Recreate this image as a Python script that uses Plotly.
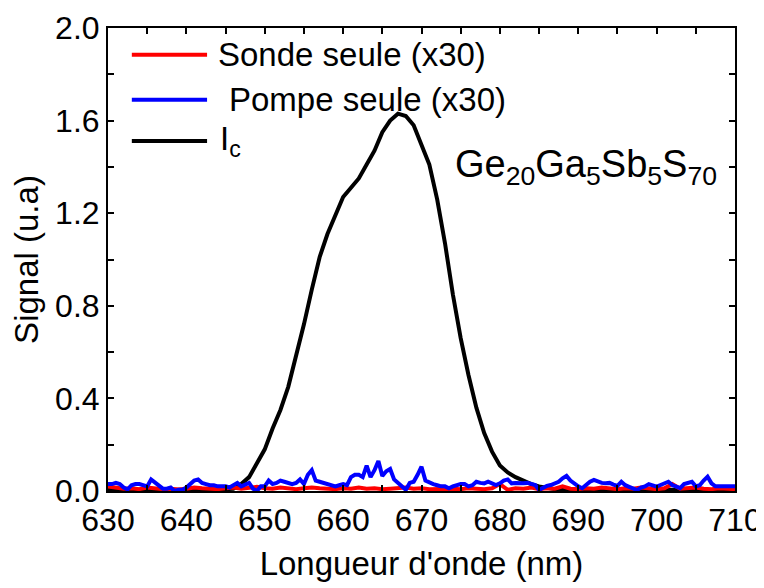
import plotly.graph_objects as go

# wavelengths (nm)
wl_1nm = list(range(630, 711))
wl_blue = [630 + 0.5 * i for i in range(161)]

ic_values = [
    0.004, 0.005, 0.003, 0.006, 0.004, 0.005, 0.003, 0.004, 0.006, 0.004,  # 630-639
    0.005, 0.004, 0.006, 0.004, 0.005, 0.006, 0.01, 0.03, 0.06, 0.12,      # 640-649
    0.18, 0.27, 0.35, 0.45, 0.58, 0.72, 0.87, 1.01, 1.11, 1.19,            # 650-659
    1.27, 1.31, 1.35, 1.41, 1.47, 1.55, 1.60, 1.63, 1.62, 1.58,            # 660-669
    1.50, 1.41, 1.26, 1.07, 0.85, 0.66, 0.50, 0.36, 0.25, 0.17,            # 670-679
    0.11, 0.08, 0.06, 0.045, 0.03, 0.02, 0.012, 0.008, 0.006, 0.005,       # 680-689
    0.004, 0.005, 0.004, 0.006, 0.005, 0.004, 0.005, 0.004, 0.006, 0.005,  # 690-699
    0.004, 0.005, 0.004, 0.005, 0.006, 0.004, 0.005, 0.004, 0.005, 0.004,  # 700-709
    0.005,                                                                   # 710
]

sonde_values = [
    0.02, 0.015, 0.01, 0.012, 0.008, 0.015, 0.012, 0.008, 0.01, 0.006,
    0.01, 0.015, 0.012, 0.01, 0.008, 0.012, 0.015, 0.01, 0.012, 0.018,
    0.012, 0.01, 0.015, 0.01, 0.008, 0.012, 0.015, 0.012, 0.01, 0.008,
    0.012, 0.01, 0.015, 0.01, 0.012, 0.008, 0.01, 0.012, 0.015, 0.01,
    0.012, 0.008, 0.01, 0.012, 0.01, 0.008, 0.012, 0.01, 0.008, 0.012,
    0.03, 0.005, 0.012, 0.01, 0.015, 0.008, 0.012, 0.01, 0.02, 0.01,
    0.008, 0.012, 0.01, 0.015, 0.01, 0.008, 0.012, 0.01, 0.015, 0.01,
    0.008, 0.012, 0.03, 0.01, 0.012, 0.015, 0.01, 0.008, 0.012, 0.01,
    0.008,
]

pompe_values = [
    0.03, 0.03, 0.035, 0.03, 0.015, 0.007, 0.025, 0.03, 0.03, 0.025,       # 630-634.5
    0.02, 0.05, 0.035, 0.025, 0.01, 0.01, 0.015, 0.0, 0.005, 0.005,        # 635-639.5
    0.015, 0.03, 0.045, 0.05, 0.035, 0.03, 0.025, 0.025, 0.02, 0.02,       # 640-644.5
    0.02, 0.015, 0.025, 0.035, 0.02, 0.03, 0.035, 0.01, 0.0, 0.02,         # 645-649.5
    0.02, 0.045, 0.03, 0.035, 0.045, 0.04, 0.035, 0.03, 0.035, 0.05,       # 650-654.5
    0.03, 0.07, 0.09, 0.045, 0.04, 0.035, 0.03, 0.025, 0.02, 0.025,        # 655-659.5
    0.03, 0.025, 0.06, 0.07, 0.07, 0.06, 0.11, 0.06, 0.09, 0.13,           # 660-664.5
    0.065, 0.085, 0.095, 0.05, 0.035, 0.02, 0.005, 0.035, 0.04, 0.07,      # 665-669.5
    0.105, 0.045, 0.035, 0.03, 0.025, 0.02, 0.02, 0.012, 0.02, 0.026,      # 670-674.5
    0.03, 0.03, 0.02, 0.025, 0.04, 0.035, 0.033, 0.04, 0.035, 0.026,       # 675-679.5
    0.033, 0.045, 0.05, 0.033, 0.035, 0.033, 0.033, 0.035, 0.03, 0.026,    # 680-684.5
    0.005, 0.015, 0.022, 0.026, 0.033, 0.04, 0.055, 0.065, 0.045, 0.03,    # 685-689.5
    0.02, 0.012, 0.026, 0.04, 0.048, 0.04, 0.035, 0.033, 0.035, 0.028,     # 690-694.5
    0.022, 0.04, 0.025, 0.018, 0.01, 0.004, 0.015, 0.02, 0.03, 0.026,      # 695-699.5
    0.019, 0.026, 0.033, 0.04, 0.026, 0.02, 0.012, 0.03, 0.035, 0.04,      # 700-704.5
    0.02, 0.025, 0.045, 0.062, 0.033, 0.02, 0.02, 0.019, 0.02, 0.019,      # 705-709.5
    0.02,                                                                    # 710
]

series_names = ["Sonde seule (x30)", " Pompe seule (x30)", "I<sub>c</sub>"]
series_colors = ["#ff0000", "#0000ff", "#000000"]

x_ticks = [630, 640, 650, 660, 670, 680, 690, 700, 710]
y_ticks = [0.0, 0.4, 0.8, 1.2, 1.6, 2.0]

FONT = "Liberation Sans, Arial, sans-serif"

fig = go.Figure()
fig.add_trace(go.Scatter(x=wl_1nm, y=ic_values, mode="lines", name=series_names[2],
                         line=dict(color=series_colors[2], width=4), showlegend=False))
fig.add_trace(go.Scatter(x=wl_1nm, y=sonde_values, mode="lines", name=series_names[0],
                         line=dict(color=series_colors[0], width=4), showlegend=False))
fig.add_trace(go.Scatter(x=wl_blue, y=pompe_values, mode="lines", name=series_names[1],
                         line=dict(color=series_colors[1], width=4), showlegend=False))

axis_common = dict(
    showline=True, linecolor="black", linewidth=2, mirror="allticks",
    ticks="inside", ticklen=6, tickwidth=1.5, tickcolor="black",
    showgrid=False, zeroline=False, automargin=False,
    tickfont=dict(family=FONT, size=32, color="black"),
    title_font=dict(family=FONT, size=33, color="black"),
)

fig.update_xaxes(range=[630, 710], tickvals=x_ticks, ticktext=[str(v) for v in x_ticks],
                 minor=dict(dtick=5, ticks="inside", ticklen=6, tickcolor="black", showgrid=False),
                 title_text="Longueur d'onde (nm)", title_standoff=14, **axis_common)
fig.update_yaxes(range=[0, 2.0], tickvals=y_ticks, ticktext=[f"{v:.1f}" for v in y_ticks],
                 minor=dict(dtick=0.2, ticks="inside", ticklen=6, tickcolor="black", showgrid=False),
                 title_text="Signal (u.a)", title_standoff=8, **axis_common)

# manual legend (long line samples as in the reference)
legend_rows_y = [0.942, 0.845, 0.756]
legend_text_x = [0.172, 0.189, 0.175]
for name, color, yy, tx in zip(series_names, series_colors, legend_rows_y, legend_text_x):
    fig.add_shape(type="line", xref="paper", yref="paper", x0=0.038, x1=0.158, y0=yy, y1=yy,
                  line=dict(color=color, width=4))
    fig.add_annotation(x=tx, y=yy, xref="paper", yref="paper", xanchor="left", yanchor="middle",
                       text=name.strip(), showarrow=False,
                       font=dict(family=FONT, size=33, color="black"))

fig.add_annotation(
    x=0.975, y=0.70, xref="paper", yref="paper", xanchor="right", yanchor="middle",
    text="Ge<sub>20</sub>Ga<sub>5</sub>Sb<sub>5</sub>S<sub>70</sub>",
    showarrow=False, font=dict(family=FONT, size=38, color="black"),
)

fig.update_layout(
    width=756, height=580,
    margin=dict(l=100, r=29, t=20, b=97),
    paper_bgcolor="white", plot_bgcolor="white",
    showlegend=False,
)

fig.write_html("out.html")
